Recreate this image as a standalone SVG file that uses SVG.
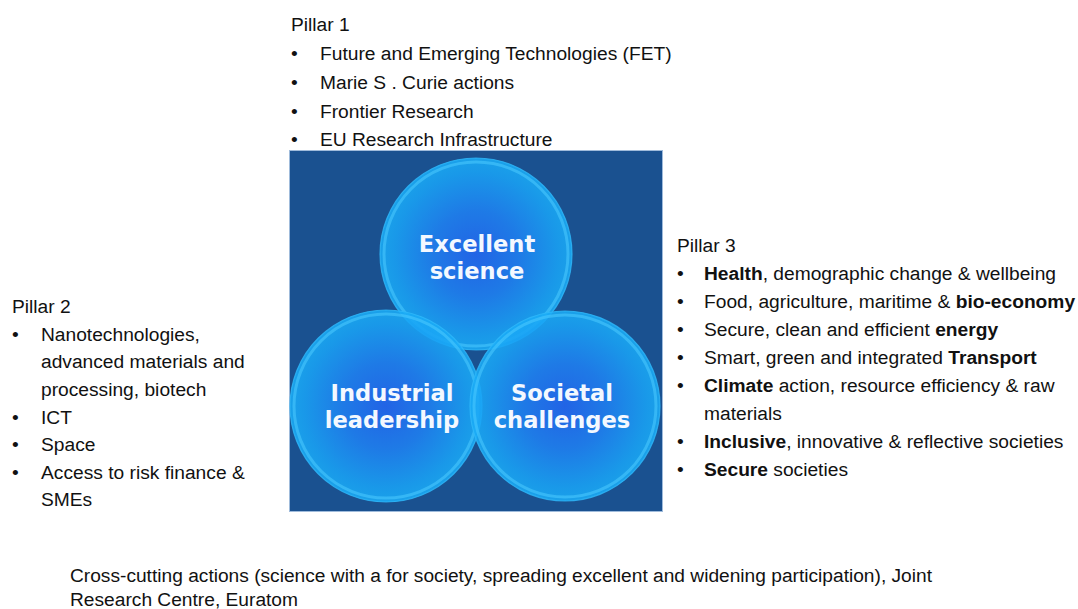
<svg xmlns="http://www.w3.org/2000/svg" width="1078" height="609" viewBox="0 0 1078 609">
  <defs>
    <radialGradient id="orb" cx="50%" cy="50%" r="50%">
      <stop offset="0%" stop-color="#2366f1"/>
      <stop offset="45%" stop-color="#1f80f2"/>
      <stop offset="85%" stop-color="#19a2f5"/>
      <stop offset="100%" stop-color="#1aacf6"/>
    </radialGradient>
    <style>
      .txt { font-family: "Liberation Sans", Arial, sans-serif; font-size: 19.2px; fill: #111111; }
      .b { font-weight: bold; }
      .orb { fill: url(#orb); fill-opacity: 0.88; }
      .rim { fill: none; stroke: #4ccaff; stroke-width: 3; stroke-opacity: 0.55; }
      .edge { fill: none; stroke: #2fb8fa; stroke-width: 1.2; stroke-opacity: 0.8; }
      .lbl { font-family: "DejaVu Sans", Verdana, sans-serif; font-weight: bold; font-size: 22.6px; fill: #f3f8ff; text-anchor: middle; }
    </style>
  </defs>
  <rect width="1078" height="609" fill="#ffffff"/>

  <g id="panel">
    <rect x="289.5" y="150.5" width="373" height="361" fill="#1a5190" stroke="#9fbbdb" stroke-width="1"/>
  </g>

  <g id="node-excellent">
    <circle class="orb" cx="476" cy="254" r="96"/>
    <circle class="rim" cx="476" cy="254" r="92"/>
    <circle class="edge" cx="476" cy="254" r="96"/>
  </g>
  <g id="node-industrial">
    <circle class="orb" cx="386" cy="406" r="96"/>
    <circle class="rim" cx="386" cy="406" r="92"/>
    <circle class="edge" cx="386" cy="406" r="96"/>
  </g>
  <g id="node-societal">
    <circle class="orb" cx="565" cy="406" r="95"/>
    <circle class="rim" cx="565" cy="406" r="91"/>
    <circle class="edge" cx="565" cy="406" r="95"/>
  </g>
  <g id="node-labels">
    <text class="lbl" x="477" y="252">Excellent</text>
    <text class="lbl" x="477" y="279">science</text>
    <text class="lbl" x="392" y="401">Industrial</text>
    <text class="lbl" x="392" y="428">leadership</text>
    <text class="lbl" x="562" y="401">Societal</text>
    <text class="lbl" x="562" y="428">challenges</text>
  </g>

  <g id="connectors"></g>

  <g id="pillar1">
    <text class="txt" x="291" y="31">Pillar 1</text>
    <text class="txt" x="291" y="60">•</text><text class="txt" x="320" y="60">Future and Emerging Technologies (FET)</text>
    <text class="txt" x="291" y="89">•</text><text class="txt" x="320" y="89">Marie S . Curie actions</text>
    <text class="txt" x="291" y="118">•</text><text class="txt" x="320" y="118">Frontier Research</text>
    <text class="txt" x="291" y="146">•</text><text class="txt" x="320" y="146">EU Research Infrastructure</text>
  </g>

  <g id="pillar2">
    <text class="txt" x="12" y="313">Pillar 2</text>
    <text class="txt" x="12" y="341">•</text><text class="txt" x="41" y="341">Nanotechnologies,</text>
    <text class="txt" x="41" y="368">advanced materials and</text>
    <text class="txt" x="41" y="396">processing, biotech</text>
    <text class="txt" x="12" y="424">•</text><text class="txt" x="41" y="424">ICT</text>
    <text class="txt" x="12" y="451">•</text><text class="txt" x="41" y="451">Space</text>
    <text class="txt" x="12" y="479">•</text><text class="txt" x="41" y="479">Access to risk finance &amp;</text>
    <text class="txt" x="41" y="506">SMEs</text>
  </g>

  <g id="pillar3">
    <text class="txt" x="677" y="252">Pillar 3</text>
    <text class="txt" x="677" y="280">•</text><text class="txt" x="704" y="280"><tspan class="b">Health</tspan>, demographic change &amp; wellbeing</text>
    <text class="txt" x="677" y="308">•</text><text class="txt" x="704" y="308">Food, agriculture, maritime &amp; <tspan class="b">bio-economy</tspan></text>
    <text class="txt" x="677" y="336">•</text><text class="txt" x="704" y="336">Secure, clean and efficient <tspan class="b">energy</tspan></text>
    <text class="txt" x="677" y="364">•</text><text class="txt" x="704" y="364">Smart, green and integrated <tspan class="b">Transport</tspan></text>
    <text class="txt" x="677" y="392">•</text><text class="txt" x="704" y="392"><tspan class="b">Climate</tspan> action, resource efficiency &amp; raw</text>
    <text class="txt" x="704" y="420">materials</text>
    <text class="txt" x="677" y="448">•</text><text class="txt" x="704" y="448"><tspan class="b">Inclusive</tspan>, innovative &amp; reflective societies</text>
    <text class="txt" x="677" y="476">•</text><text class="txt" x="704" y="476"><tspan class="b">Secure</tspan> societies</text>
  </g>

  <g id="footer">
    <text class="txt" x="70" y="582" textLength="862" lengthAdjust="spacingAndGlyphs">Cross-cutting actions (science with a for society, spreading excellent and widening participation), Joint</text>
    <text class="txt" x="70" y="606" textLength="228" lengthAdjust="spacingAndGlyphs">Research Centre, Euratom</text>
  </g>
</svg>
